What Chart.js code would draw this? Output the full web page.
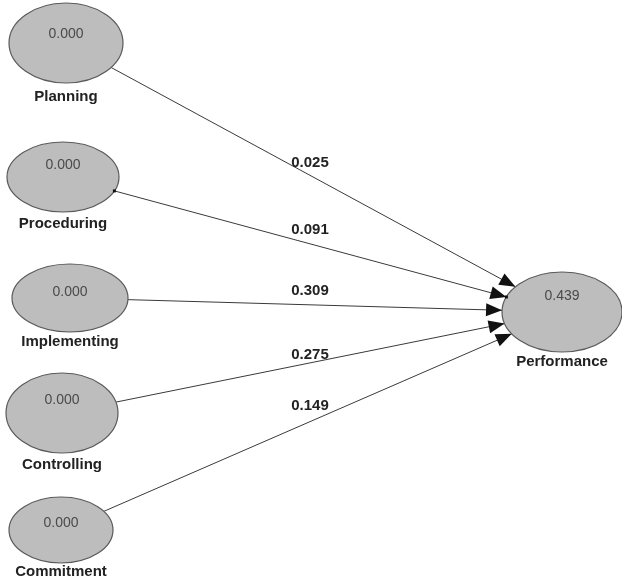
<!DOCTYPE html>
<html>
<head>
<meta charset="utf-8">
<script src="https://cdn.jsdelivr.net/npm/chart.js@4/dist/chart.umd.min.js"></script>
<style>
html,body{margin:0;padding:0;background:#fff;}
#wrap{width:622px;height:584px;position:relative;}
</style>
</head>
<body>
<div id="wrap"><canvas id="c"></canvas></div>
<script>
// ---- data ----
const nodeNames = ["Planning","Proceduring","Implementing","Controlling","Commitment","Performance"];
const nodeValues = ["0.000","0.000","0.000","0.000","0.000","0.439"];
const pathFrom = [0,1,2,3,4];
const pathTo = [5,5,5,5,5];
const pathCoefs = ["0.025","0.091","0.309","0.275","0.149"];

// ---- layout (diagram units) ----
const nodeX = [66,63,70,62,61,562];
const nodeY = [43,177,298,413,530,312];
const nodeRX = [57,56,58,56,52,60];
const nodeRY = [40,35,34,40,33,40];
const valueOffset = [-9,-12,-6,-13,-7,-16];
const labelGap = [14,12,10,12,9,10];
const coefLabelX = 310;
const coefLabelOffset = [-12,-14,-14,-8,-16];

function boundary(i, tx, ty) {
  const dx = tx - nodeX[i], dy = ty - nodeY[i];
  const s = 1 / Math.sqrt((dx/nodeRX[i])**2 + (dy/nodeRY[i])**2);
  return {x: nodeX[i] + dx*s, y: nodeY[i] + dy*s};
}
const edges = pathFrom.map((f, k) => {
  const t = pathTo[k];
  const a = boundary(f, nodeX[t], nodeY[t]);
  const b = boundary(t, nodeX[f], nodeY[f]);
  return [a, b];
});

const datasets = edges.map(e => ({
  type: 'line', data: e, borderColor: '#3a3a3a', borderWidth: 1,
  pointRadius: 0, fill: false, tension: 0, order: 2
}));

const diagramPlugin = {
  id: 'diagram',
  afterDatasetsDraw(chart) {
    const ctx = chart.ctx, xs = chart.scales.x, ys = chart.scales.y;
    const px = v => xs.getPixelForValue(v), py = v => ys.getPixelForValue(v);
    ctx.save();
    // arrowheads
    edges.forEach(e => {
      const x1 = px(e[0].x), y1 = py(e[0].y), x2 = px(e[1].x), y2 = py(e[1].y);
      const ang = Math.atan2(y2 - y1, x2 - x1);
      const L = 16, W = 6.5;
      ctx.beginPath();
      ctx.moveTo(x2, y2);
      ctx.lineTo(x2 - L*Math.cos(ang) + W*Math.sin(ang), y2 - L*Math.sin(ang) - W*Math.cos(ang));
      ctx.lineTo(x2 - L*Math.cos(ang) - W*Math.sin(ang), y2 - L*Math.sin(ang) + W*Math.cos(ang));
      ctx.closePath();
      ctx.fillStyle = '#111';
      ctx.fill();
    });
    // ellipses
    nodeNames.forEach((n, i) => {
      const cx = px(nodeX[i]), cy = py(nodeY[i]);
      const rx = Math.abs(px(nodeX[i] + nodeRX[i]) - cx), ry = Math.abs(py(nodeY[i] + nodeRY[i]) - cy);
      ctx.beginPath();
      ctx.ellipse(cx, cy, rx, ry, 0, 0, Math.PI*2);
      ctx.fillStyle = '#bdbdbd';
      ctx.fill();
      ctx.lineWidth = 1.2;
      ctx.strokeStyle = '#5a5a5a';
      ctx.stroke();
      ctx.fillStyle = '#4a4a4a';
      ctx.font = '14px "Liberation Sans", Arial, sans-serif';
      ctx.textAlign = 'center';
      ctx.textBaseline = 'middle';
      ctx.fillText(nodeValues[i], cx, cy + valueOffset[i]);
      ctx.fillStyle = '#222';
      ctx.font = 'bold 15px "Liberation Sans", Arial, sans-serif';
      ctx.fillText(n, cx, cy + ry + labelGap[i]);
    });
    // small markers
    ctx.fillStyle = '#111';
    [1].forEach(k => {
      const e = edges[k];
      ctx.fillRect(px(e[0].x) - 1.5, py(e[0].y) - 1.5, 3, 3);
      ctx.fillRect(px(e[1].x) - 1.5, py(e[1].y) - 1.5, 3, 3);
    });
    // coefficients
    ctx.font = 'bold 15px "Liberation Sans", Arial, sans-serif';
    ctx.fillStyle = '#222';
    ctx.textAlign = 'center';
    ctx.textBaseline = 'middle';
    edges.forEach((e, k) => {
      const t = (coefLabelX - e[0].x) / (e[1].x - e[0].x);
      const yv = e[0].y + t*(e[1].y - e[0].y);
      ctx.fillText(pathCoefs[k], px(coefLabelX), py(yv) + coefLabelOffset[k]);
    });
    ctx.restore();
  }
};

new Chart(document.getElementById('c'), {
  type: 'line',
  data: { datasets },
  options: {
    responsive: true, maintainAspectRatio: false, animation: false,
    layout: { padding: 0 },
    plugins: { legend: { display: false }, tooltip: { enabled: false } },
    scales: {
      x: { type: 'linear', min: 0, max: 622, display: false },
      y: { type: 'linear', min: 0, max: 584, reverse: true, display: false }
    }
  },
  plugins: [diagramPlugin]
});
</script>
</body>
</html>
